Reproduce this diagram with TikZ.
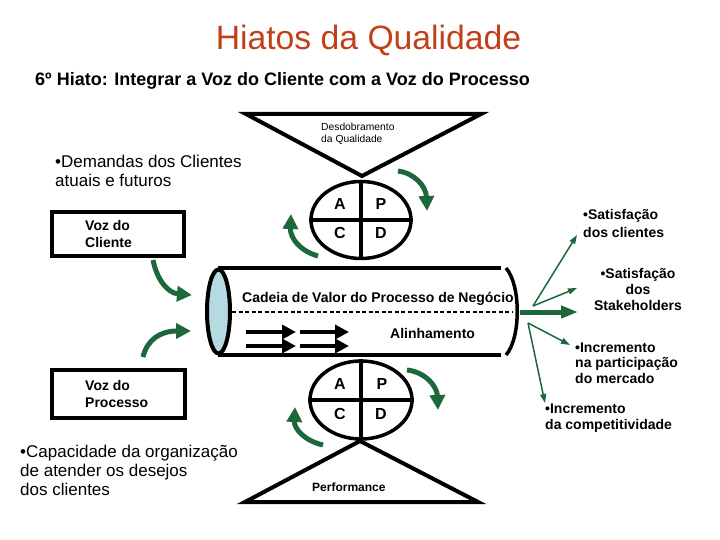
\documentclass[tikz,border=0pt]{standalone}
\usepackage{fontspec}
\setmainfont{Liberation Sans}
\usetikzlibrary{arrows.meta,shapes.geometric}
\definecolor{titlered}{RGB}{192,64,26}
\definecolor{dgreen}{RGB}{28,104,60}
\definecolor{capblue}{RGB}{180,218,226}
\tikzset{
  heavy/.style={line width=4pt, line join=miter},
  garrow/.style={draw=dgreen, line width=5pt, -{Triangle[length=15pt,width=15pt]}},
  tarrow/.style={draw=dgreen, line width=1.5pt, -{Triangle[length=9pt,width=6pt]}},
  barrow/.style={draw=black, line width=4pt, -{Triangle[length=14pt,width=14pt]}},
  letter/.style={font=\bfseries\fontsize{16}{18}\selectfont, inner sep=0pt},
  bsmall/.style={font=\bfseries\fontsize{14}{16}\selectfont, inner sep=0pt, align=left},
  bigtxt/.style={font=\fontsize{17}{19}\selectfont, inner sep=0pt, align=left},
  boxstyle/.style={draw, line width=4pt, inner sep=0pt},
  pdca/.style={ellipse, draw, line width=3.5pt, inner sep=0pt},
}
\begin{document}
\begin{tikzpicture}[x=1pt,y=-1pt]
\useasboundingbox (0,0) rectangle (720,540);

% titles
\node[anchor=base, font=\fontsize{33.7}{36}\selectfont, text=titlered, inner sep=0pt] (title) at (368.5,50) {Hiatos da Qualidade};
\node[anchor=base west, font=\bfseries\fontsize{18}{20}\selectfont, inner sep=0pt] (sub) at (35,86) {6º Hiato: Integrar a Voz do Cliente com a Voz do Processo};

% top triangle
\draw[heavy] (246,114) -- (481,114) -- (362,176) -- cycle;
\node[anchor=north west, font=\fontsize{10.3}{12}\selectfont, inner sep=0pt, align=left] (desd) at (321,122.5) {Desdobramento\\da Qualidade};

% top PDCA
\node[pdca, minimum width=100pt, minimum height=77pt] (p1) at (361,220) {};
\draw[line width=3.5pt] (p1.north) -- (p1.south);
\draw[line width=3.5pt] (p1.west) -- (p1.east);
\node[letter] (a1) at (340,204) {A};
\node[letter] (pp1) at (381,204) {P};
\node[letter] (c1) at (340,233) {C};
\node[letter] (d1) at (381,233) {D};

% cylinder
\draw[heavy] (218,268) -- (501,268);
\draw[heavy] (218,355) -- (501,355);
\draw[line width=3.5pt] (506,268) .. controls (521,285) and (521,338) .. (506,355);
\draw[line width=1.2pt, dash pattern=on 4pt off 2.5pt] (232,312) -- (512,312);
\node[ellipse, draw, line width=4pt, fill=capblue, minimum width=23pt, minimum height=84pt, inner sep=0pt] (cap) at (218.5,311.5) {};
\node[bsmall, anchor=base west] (cadeia) at (242,302) {Cadeia de Valor do Processo de Negócio};
\node[bsmall, anchor=base west] (alin) at (390,338) {Alinhamento};

% double arrows
\coordinate (da1s) at (246,332); \coordinate (da1e) at (296,332);
\coordinate (da2s) at (246,346); \coordinate (da2e) at (296,346);
\coordinate (db1s) at (300,332); \coordinate (db1e) at (349,332);
\coordinate (db2s) at (300,346); \coordinate (db2e) at (349,346);
\draw[barrow] (da1s) -- (da1e);
\draw[barrow] (da2s) -- (da2e);
\draw[barrow] (db1s) -- (db1e);
\draw[barrow] (db2s) -- (db2e);

% bottom PDCA
\node[pdca, minimum width=102pt, minimum height=78pt] (p2) at (361,400) {};
\draw[line width=3.5pt] (p2.north) -- (p2.south);
\draw[line width=3.5pt] (p2.west) -- (p2.east);
\node[letter] (a2) at (340,384) {A};
\node[letter] (pp2) at (382,384) {P};
\node[letter] (c2) at (340,414) {C};
\node[letter] (d2) at (381,414) {D};

% bottom triangle
\draw[heavy] (360,441) -- (245,502) -- (478,502) -- cycle;
\node[anchor=base west, font=\bfseries\fontsize{12}{14}\selectfont, inner sep=0pt] (perf) at (312,491.5) {Performance};

% left boxes
\node[boxstyle, minimum width=132pt, minimum height=44pt] (vcbox) at (118,234) {};
\node[bsmall, anchor=north west, font=\bfseries\fontsize{14}{17}\selectfont] (vctxt) at (85,220) {Voz do\\Cliente};
\node[boxstyle, minimum width=133pt, minimum height=48pt] (vpbox) at (118.5,394) {};
\node[bsmall, anchor=north west, font=\bfseries\fontsize{14}{16.7}\selectfont] (vptxt) at (85,380) {Voz do\\Processo};

\node[bigtxt, anchor=north west] (dem) at (55,154.6) {•Demandas dos Clientes\\atuais e futuros};
\node[bigtxt, anchor=north west, font=\fontsize{17}{19.2}\selectfont] (capac) at (20,444.5) {•Capacidade da organização\\de atender os desejos\\dos clientes};

% right texts
\node[bsmall, anchor=north west, font=\bfseries\fontsize{14}{17.4}\selectfont] (sat1) at (583,209.3) {•Satisfação\\dos clientes};
\node[bsmall, anchor=north, align=center] (sat2) at (638,268.5) {•Satisfação\\dos\\Stakeholders};
\node[bsmall, anchor=north west, font=\bfseries\fontsize{14}{15.3}\selectfont] (inc1) at (575,342.7) {•Incremento\\na participação\\do mercado};
\node[bsmall, anchor=north west, font=\bfseries\fontsize{14}{16.7}\selectfont] (inc2) at (545,403.3) {•Incremento\\da competitividade};

% green curved arrows
\coordinate (g1s) at (398,171); \coordinate (g1e) at (427,211);
\draw[garrow] (g1s) .. controls (414,173) and (426,186) .. (g1e);
\coordinate (g2s) at (318,256); \coordinate (g2e) at (291,214);
\draw[garrow] (g2s) .. controls (300,251) and (290,238) .. (g2e);
\coordinate (g3s) at (407,370); \coordinate (g3e) at (438,410);
\draw[garrow] (g3s) .. controls (425,372) and (437,386) .. (g3e);
\coordinate (g4s) at (323,445); \coordinate (g4e) at (295,407);
\draw[garrow] (g4s) .. controls (305,441) and (294,429) .. (g4e);
\coordinate (g5s) at (153,260); \coordinate (g5e) at (192,295);
\draw[garrow] (g5s) .. controls (157,280) and (168,293) .. (g5e);
\coordinate (g6s) at (143,357); \coordinate (g6e) at (191,331);
\draw[garrow] (g6s) .. controls (147,340) and (160,331) .. (g6e);

% right fan
\coordinate (fanA) at (533,306);
\coordinate (fanB) at (528,323);
\coordinate (fanC) at (520,312);
\coordinate (t1) at (577,235);
\coordinate (t2) at (577,288);
\coordinate (t3) at (578,312);
\coordinate (t4) at (570,345);
\coordinate (t5) at (545,403);
\draw[tarrow] (fanA) -- (t1);
\draw[tarrow] (fanA) -- (t2);
\draw[draw=dgreen, line width=5pt, -{Triangle[length=17pt,width=12pt]}] (fanC) -- (t3);
\draw[tarrow] (fanB) -- (t4);
\draw[tarrow] (fanB) -- (t5);
\end{tikzpicture}
\end{document}
